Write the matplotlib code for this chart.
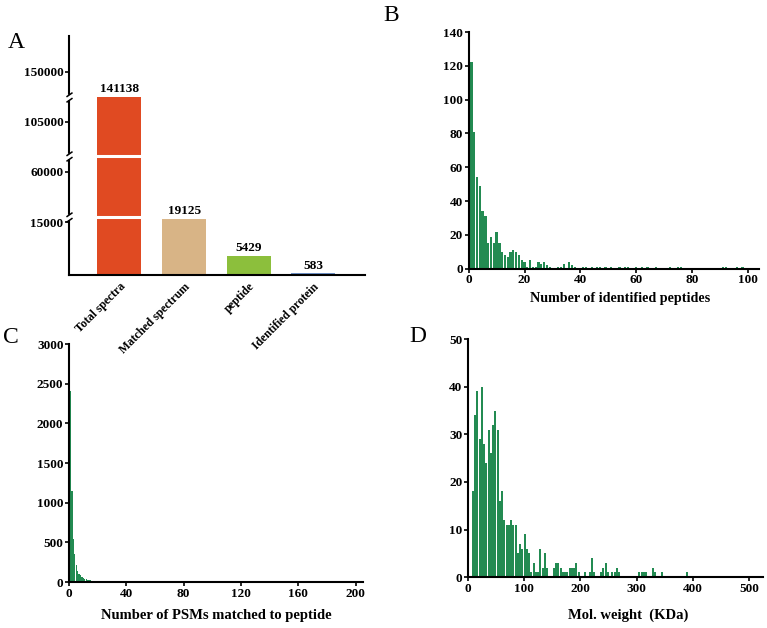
import numpy as np
import matplotlib.pyplot as plt
from matplotlib.path import Path

# ---------------- data ----------------
# Panel A: overview counts
a_labels = ["Total spectra", "Matched spectrum", "peptide", "Identified protein"]
a_values = [141138, 19125, 5429, 583]
a_colors = ["#E04A22", "#D8B486", "#8CBF3C", "#6E92C8"]

# broken axis of panel A: value -> height (piecewise)
a_knot_vals = [0, 15000, 20000, 60000, 73000, 105000, 141138, 150000, 183000]
a_knot_pos = [0, 53, 57, 103, 118, 153, 178, 203, 239]
a_breaks_pos = [58, 119, 178]

# Panel B: number of identified peptides per protein
b_x = [1, 2, 3, 4, 5, 6, 7, 8, 9, 10, 11, 12, 13, 14, 15, 16, 17, 18, 19, 20,
       21, 22, 23, 24, 25, 26, 27, 28, 29, 32, 33, 34, 36, 37, 38, 41, 42, 44,
       46, 47, 49, 51, 54, 56, 57, 60, 62, 64, 67, 72, 75, 76, 91, 92, 96, 98]
b_counts = [122, 81, 54, 49, 34, 31, 15, 19, 15, 22, 15, 10, 8, 7, 10, 11, 10, 8, 5, 4,
            1, 5, 1, 1, 4, 3, 4, 2, 1, 1, 1, 3, 4, 2, 1, 1, 1, 1,
            1, 1, 1, 1, 1, 1, 1, 1, 1, 1, 1, 1, 1, 1, 1, 1, 1, 1]

# Panel C: number of PSMs matched to peptide
c_x = list(range(1, 31))
c_counts = [2410, 1150, 540, 350, 210, 140, 100, 85, 70, 55, 42, 35, 28, 24, 26,
            18, 15, 12, 10, 9, 7, 6, 5, 4, 3, 3, 2, 2, 1, 1]

# Panel D: molecular weight distribution (bin centres, KDa)
d_x = [9, 13, 17, 21, 25, 29, 33, 37, 41, 45, 49, 53, 57, 61, 65, 69, 73, 77, 81, 85,
       89, 93, 97, 101, 105, 109, 113, 117, 121, 125, 129, 133, 137, 141, 153, 157,
       161, 165, 169, 173, 177, 181, 185, 189, 193, 197, 209, 217, 221, 225, 237,
       241, 245, 249, 257, 261, 265, 269, 305, 309, 313, 317, 329, 333, 345, 389]
d_counts = [18, 34, 39, 29, 40, 28, 24, 31, 26, 32, 35, 31, 16, 18, 12, 11, 11, 12, 11, 11,
            5, 7, 6, 9, 6, 5, 1, 3, 1, 1, 6, 2, 5, 2, 2, 3,
            3, 2, 1, 1, 1, 2, 2, 2, 3, 1, 1, 1, 4, 1, 1,
            2, 3, 1, 1, 1, 2, 1, 1, 1, 1, 1, 2, 1, 1, 1]

green = "#238B52"

plt.rcParams['font.family'] = ['Liberation Serif', 'DejaVu Serif']
plt.rcParams['font.weight'] = 'bold'

fig = plt.figure(figsize=(7.67, 6.28), dpi=100)


def style(ax):
    for s in ["top", "right"]:
        ax.spines[s].set_visible(False)
    for s in ["left", "bottom"]:
        ax.spines[s].set_linewidth(1.5)
    ax.tick_params(direction="out", length=3, width=1.2, labelsize=9.5, pad=1)
    for lab in ax.get_xticklabels() + ax.get_yticklabels():
        lab.set_fontweight("bold")
    ax.patch.set_visible(False)


def fwd(v):
    return np.interp(v, a_knot_vals, a_knot_pos)


def inv(p):
    return np.interp(p, a_knot_pos, a_knot_vals)


# ---------------- Panel A ----------------
axA = fig.add_axes([0.090, 0.562, 0.386, 0.381])
axA.set_zorder(5)
axA.set_yscale("function", functions=(fwd, inv))
axA.bar(range(len(a_values)), a_values, width=0.68, color=a_colors, zorder=2)
axA.set_xlim(-0.78, 3.8)
axA.set_ylim(0, 183000)
axA.set_yticks([15000, 60000, 105000, 150000])
axA.yaxis.set_minor_locator(plt.NullLocator())
axA.set_xticks(range(len(a_labels)))
axA.set_xticklabels(a_labels, rotation=45, ha="right", rotation_mode="anchor")
style(axA)
axA.tick_params(axis="x", length=0, pad=4)
for lab in axA.get_xticklabels():
    lab.set_fontsize(8.5)
for i, v in enumerate(a_values):
    axA.annotate(str(v), (i, v), xytext=(0, 1), textcoords="offset points",
                 ha="center", va="bottom", fontsize=9.5, fontweight="bold")

# white gaps through the tall bar and break marks on the axis
brk = Path([(-1.0, -1.6), (1.0, -0.2), (-1.0, 0.2), (1.0, 1.6)],
           [Path.MOVETO, Path.LINETO, Path.MOVETO, Path.LINETO])
for p in a_breaks_pos:
    yv = inv(p)
    if p < 170:
        axA.axhline(yv, xmin=0.03, xmax=0.5, color="white", lw=2.2, zorder=3)
    axA.plot([0], [yv], marker="s", ms=3.5, color="white", mec="white",
             transform=axA.get_yaxis_transform(), clip_on=False, zorder=6)
    axA.plot([0], [yv], marker=brk, ms=7, color="black", mew=1.1,
             transform=axA.get_yaxis_transform(), clip_on=False, zorder=7)

# ---------------- Panel B ----------------
axB = fig.add_axes([0.611, 0.572, 0.379, 0.377])
axB.bar(b_x, b_counts, width=0.8, color=green, zorder=2)
axB.set_xlim(0, 104)
axB.set_ylim(0, 140)
axB.set_yticks(range(0, 141, 20))
axB.set_xticks(range(0, 101, 20))
axB.set_xlabel("Number of identified peptides", fontsize=10.2, fontweight="bold")
axB.xaxis.set_label_coords(0.52, -0.1)
style(axB)

# ---------------- Panel C ----------------
axC = fig.add_axes([0.090, 0.073, 0.383, 0.379])
axC.bar(c_x, c_counts, width=0.85, color=green, zorder=2)
axC.set_xlim(0, 205)
axC.set_ylim(0, 3000)
axC.set_yticks(range(0, 3001, 500))
axC.set_xticks(range(0, 201, 40))
axC.set_xlabel("Number of PSMs matched to peptide", fontsize=10.5, fontweight="bold", labelpad=7)
style(axC)

# ---------------- Panel D ----------------
axD = fig.add_axes([0.610, 0.081, 0.385, 0.379])
axD.bar(d_x, d_counts, width=3.5, color=green, zorder=2)
axD.set_xlim(0, 525)
axD.set_ylim(0, 50)
axD.set_yticks(range(0, 51, 10))
axD.set_xticks(range(0, 501, 100))
axD.set_xlabel("Mol. weight  (KDa)", fontsize=10.5, fontweight="bold")
axD.xaxis.set_label_coords(0.542, -0.13)
style(axD)

# panel letters
for letter, x, y in [("A", 0.010, 0.932), ("B", 0.500, 0.975), ("C", 0.004, 0.462), ("D", 0.534, 0.464)]:
    fig.text(x, y, letter, fontsize=17, fontweight="normal", ha="left", va="center")

fig.savefig("out.png", dpi=100)
